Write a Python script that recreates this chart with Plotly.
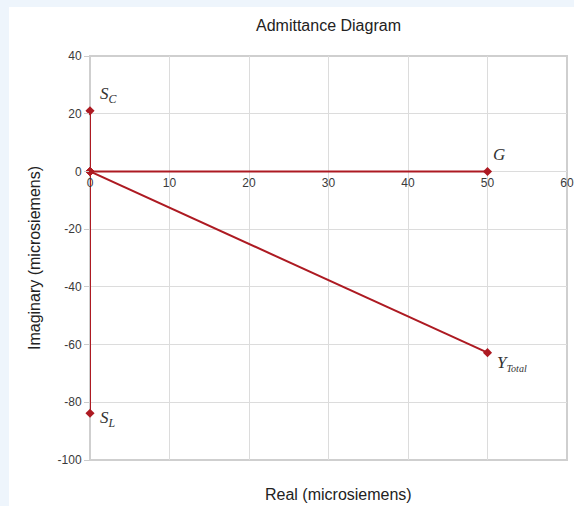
import plotly.graph_objects as go

# Admittance components (microsiemens)
G = 50.0          # conductance
S_C = 21.0        # capacitive susceptance
S_L = -83.8       # inductive susceptance
Y_real = G
Y_imag = S_C + S_L

x_ticks = [0, 10, 20, 30, 40, 50, 60]
y_ticks = [40, 20, 0, -20, -40, -60, -80, -100]
y_tick_text = [str(v) for v in y_ticks]
x_range = [0, 60]
y_range = [-100, 40]

line_color = "#ad1a22"
phasors = [
    ("S_C", 0.0, S_C),
    ("G", G, 0.0),
    ("S_L", 0.0, S_L),
    ("Y", Y_real, Y_imag),
]

fig = go.Figure()
for name, px, py in phasors:
    fig.add_trace(go.Scatter(
        x=[0, px], y=[0, py], mode="lines+markers", name=name,
        line=dict(color=line_color, width=2),
        marker=dict(symbol="diamond", size=7, color=line_color),
        showlegend=False, hoverinfo="skip", cliponaxis=False,
    ))

serif = dict(family="Liberation Serif, DejaVu Serif, serif", size=17, color="#333333")
labels = [
    ("<i>S</i><sub><i>C</i></sub>", 0.0, S_C, 19, 16),
    ("<i>G</i>", G, 0.0, 11, 17),
    ("<i>S</i><sub><i>L</i></sub>", 0.0, S_L, 18, -6),
    ("<i>Y</i><sub><i><span style='font-size:10px'>Total</span></i></sub>", Y_real, Y_imag, 24, -11),
]
for text, ax_, ay_, dx, dy in labels:
    fig.add_annotation(x=ax_, y=ay_, xref="x", yref="y", text=text, showarrow=False,
                       xshift=dx, yshift=dy, font=serif)

# x-axis tick labels sit on the zero line of the imaginary axis
x_axis_pos = (0 - y_range[0]) / (y_range[1] - y_range[0])

sans = "Liberation Sans, Arial, sans-serif"
tick_font = dict(family=sans, size=12, color="#3a3a3a")
title_font = dict(family=sans, size=16, color="#222222")
fig.update_layout(
    width=574, height=506,
    margin=dict(l=90, r=7, t=56, b=46, autoexpand=False),
    paper_bgcolor="#eef5fc",
    plot_bgcolor="#ffffff",
    title=dict(text="Admittance Diagram", x=0.5, xref="paper", y=1 - 25 / 506, yanchor="middle",
               font=title_font),
    xaxis=dict(range=x_range, tickvals=x_ticks, showgrid=True, gridcolor="#dcdcdc", gridwidth=1,
               zeroline=False, showline=False, ticks="", tickfont=tick_font, automargin=False,
               anchor="free", position=x_axis_pos, ticklabelstandoff=3),
    yaxis=dict(range=y_range, tickvals=y_ticks, ticktext=y_tick_text, showgrid=True,
               gridcolor="#dcdcdc", gridwidth=1,
               zeroline=False, showline=False, ticks="outside", ticklen=5, tickcolor="#cccccc",
               tickfont=tick_font, automargin=False,
               title=dict(text="Imaginary (microsiemens)", standoff=12, font=title_font)),
    shapes=[
        # white panel behind the chart
        dict(type="rect", xref="paper", yref="paper", x0=(9 - 90) / 477, x1=1.1,
             y0=-0.2, y1=(460 - 7) / 404, fillcolor="#ffffff", line=dict(width=0), layer="below"),
        # plot frame
        dict(type="rect", xref="paper", yref="paper", x0=0, x1=1, y0=0, y1=1,
             line=dict(color="#cfcfcf", width=2), layer="below"),
    ],
)
fig.add_annotation(text="Real (microsiemens)", xref="paper", yref="paper", x=0.52, y=-34 / 404,
                   yanchor="middle", showarrow=False, font=title_font)

fig.write_html("out.html")
